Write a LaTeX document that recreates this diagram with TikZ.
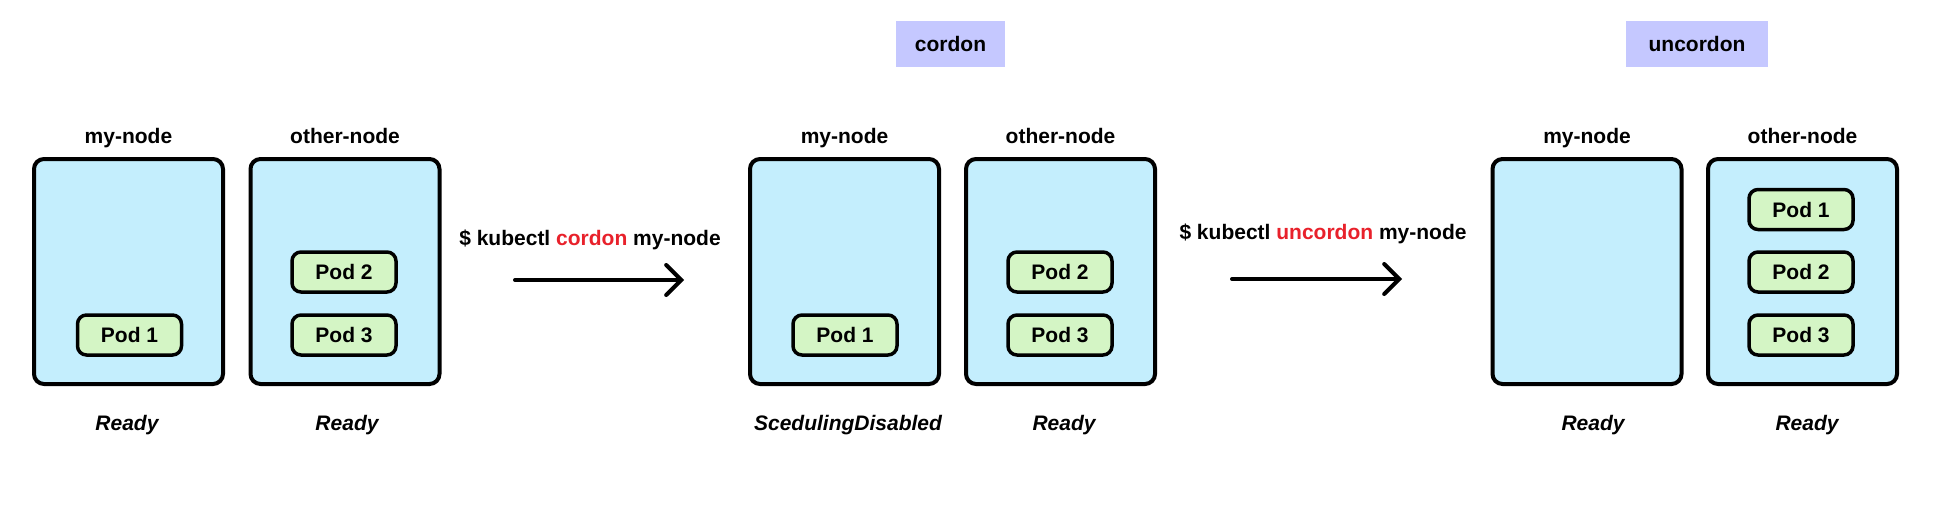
\documentclass[tikz,border=0pt]{standalone}
\usepackage{fontspec}
\setmainfont{Liberation Sans}
\usepackage{xcolor}
\usepackage{tikz}
\usetikzlibrary{arrows.meta}

\definecolor{nodeblue}{HTML}{C4EEFD}
\definecolor{podgreen}{HTML}{D4F5C5}
\definecolor{tagblue}{HTML}{C5C8FF}
\definecolor{cmdred}{HTML}{E8212B}

\begin{document}
\begin{tikzpicture}[x=1pt,y=-1pt,
  font=\fontsize{21}{25}\selectfont\bfseries,
  worker/.style={draw, line width=4pt, fill=nodeblue, rounded corners=10pt,
    minimum width=189pt, minimum height=225pt, inner sep=0pt},
  pod/.style={draw, line width=3.5pt, fill=podgreen, rounded corners=9pt,
    minimum width=104pt, minimum height=40pt, inner sep=0pt,
    text height=15pt, text depth=0pt},
  title/.style={anchor=base},
  status/.style={anchor=base, font=\fontsize{21}{25}\selectfont\bfseries\itshape},
  tag/.style={fill=tagblue, minimum height=46pt, inner sep=0pt,
    text height=15pt, text depth=0pt},
  cmd/.style={anchor=base},
  move/.style={line width=4pt, line cap=round,
    -{Straight Barb[length=15pt,width=30pt,line cap=round]}}
]
\useasboundingbox (0,0) rectangle (1937,531);

% before
\node[worker] (my1) at (128.5,271.5) {};
\node[worker] (other1) at (345,271.5) {};
\node[title] (my1t) at (128.5,143) {my-node};
\node[title] (other1t) at (345,143) {other-node};
\node[pod] (p1a) at (129.5,335) {Pod 1};
\node[pod] (p1b) at (344,272) {Pod 2};
\node[pod] (p1c) at (344,335) {Pod 3};
\node[status] (my1s) at (127,430) {Ready};
\node[status] (other1s) at (347,430) {Ready};

% kubectl cordon
\node[cmd] (cmd1) at (590,245) {\$ kubectl {\color{cmdred}cordon} my-node};
\coordinate (a1s) at (515,280);
\coordinate (a1e) at (684,280);
\draw[move] (a1s) -- (a1e);

% cordoned
\node[tag, minimum width=109pt] (cordon) at (950.5,44) {cordon};
\node[worker] (my2) at (844.5,271.5) {};
\node[worker] (other2) at (1060.5,271.5) {};
\node[title] (my2t) at (844.5,143) {my-node};
\node[title] (other2t) at (1060.5,143) {other-node};
\node[pod] (p2a) at (845,335) {Pod 1};
\node[pod] (p2b) at (1060,272) {Pod 2};
\node[pod] (p2c) at (1060,335) {Pod 3};
\node[status] (my2s) at (848,430) {ScedulingDisabled};
\node[status] (other2s) at (1064,430) {Ready};

% kubectl uncordon
\node[cmd] (cmd2) at (1323,239) {\$ kubectl {\color{cmdred}uncordon} my-node};
\coordinate (a2s) at (1232,279);
\coordinate (a2e) at (1402,279);
\draw[move] (a2s) -- (a2e);

% uncordoned
\node[tag, minimum width=142pt] (uncordon) at (1697,44) {uncordon};
\node[worker] (my3) at (1587,271.5) {};
\node[worker] (other3) at (1802.5,271.5) {};
\node[title] (my3t) at (1587,143) {my-node};
\node[title] (other3t) at (1802.5,143) {other-node};
\node[pod] (p3a) at (1801,209.5) {Pod 1};
\node[pod] (p3b) at (1801,272) {Pod 2};
\node[pod] (p3c) at (1801,335) {Pod 3};
\node[status] (my3s) at (1593,430) {Ready};
\node[status] (other3s) at (1807,430) {Ready};
\end{tikzpicture}
\end{document}
